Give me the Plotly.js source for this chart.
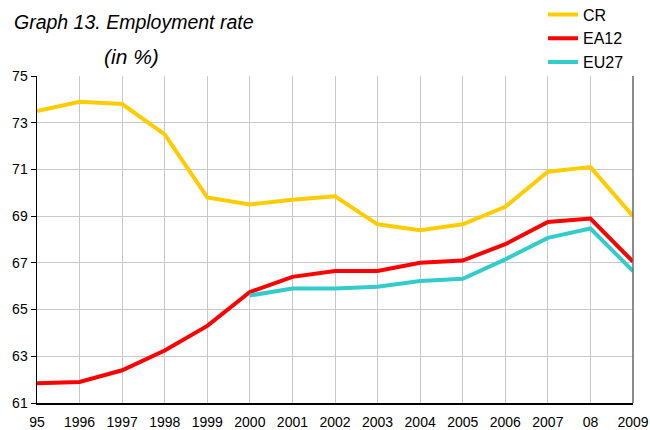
<!DOCTYPE html>
<html>
<head>
<meta charset="utf-8">
<script src="https://cdn.plot.ly/plotly-3.0.1.min.js"></script>
<style>html,body{margin:0;padding:0;background:#fff;}#chart{width:650px;height:430px;}</style>
</head>
<body>
<div id="chart"></div>
<script>
const years = ["95","1996","1997","1998","1999","2000","2001","2002","2003","2004","2005","2006","2007","08","2009"];
const cr   = [73.5, 73.9, 73.8, 72.5, 69.8, 69.5, 69.7, 69.85, 68.65, 68.4, 68.65, 69.4, 70.9, 71.1, 69.0];
const ea12 = [61.85, 61.9, 62.4, 63.25, 64.3, 65.75, 66.4, 66.65, 66.65, 67.0, 67.1, 67.8, 68.75, 68.9, 67.05];
const eu27 = [null, null, null, null, null, 65.6, 65.9, 65.9, 65.98, 66.22, 66.32, 67.15, 68.07, 68.47, 66.65];
const seriesNames = ["CR", "EA12", "EU27"];
const yTicks = [61, 63, 65, 67, 69, 71, 73, 75];
const titleLines = ["Graph 13. Employment rate", "(in %)"];

const font = "Liberation Sans, Arial, sans-serif";
const mk = (name, y, color) => ({
  x: years, y: y, name: name, type: "scatter", mode: "lines",
  line: {color: color, width: 4}, connectgaps: false
});
const data = [
  mk(seriesNames[0], cr, "#FFCC00"),
  mk(seriesNames[1], ea12, "#FF0000"),
  mk(seriesNames[2], eu27, "#33CCCC")
];
const tfont = {family: font, size: 19.5, color: "#000", style: "italic"};
const layout = {
  width: 650, height: 430,
  margin: {l: 37, r: 17, t: 76, b: 27, autoexpand: false},
  paper_bgcolor: "#fff", plot_bgcolor: "#fff",
  font: {family: font, size: 14, color: "#000"},
  showlegend: true,
  legend: {x: 0.849, y: 1.24, xanchor: "left", yanchor: "top",
    font: {family: font, size: 16, color: "#000"}, bgcolor: "rgba(0,0,0,0)",
    tracegroupgap: 0},
  annotations: [{
    xref: "paper", yref: "paper", x: -0.042, y: 1.165, xanchor: "left", yanchor: "middle",
    text: titleLines[0], showarrow: false, font: tfont
  }, {
    xref: "paper", yref: "paper", x: 0.158, y: 1.061, xanchor: "center", yanchor: "middle",
    text: titleLines[1], showarrow: false, font: Object.assign({}, tfont, {size: 21})
  }],
  xaxis: {
    type: "category", categoryorder: "array", categoryarray: years,
    range: [0, 14], tickvals: years, ticktext: years,
    showgrid: true, gridcolor: "#c8c8c8", gridwidth: 1,
    showline: true, linecolor: "#000", linewidth: 1.5,
    ticks: "", ticklabelstandoff: 6, tickfont: {family: font, size: 14}, zeroline: false, fixedrange: true
  },
  yaxis: {
    range: [61, 75], tickvals: yTicks, ticktext: yTicks.map(String),
    showgrid: true, gridcolor: "#c8c8c8", gridwidth: 1,
    showline: true, linecolor: "#000", linewidth: 1.5,
    ticks: "outside", ticklen: 5, tickcolor: "#000",
    tickfont: {family: font, size: 14}, zeroline: false, fixedrange: true
  },
  shapes: [{type: "line", xref: "paper", yref: "paper", x0: 1, x1: 1, y0: 0, y1: 1,
    line: {color: "#666", width: 1.5}}]
};
Plotly.newPlot("chart", data, layout, {displayModeBar: false, staticPlot: true});
</script>
</body>
</html>
